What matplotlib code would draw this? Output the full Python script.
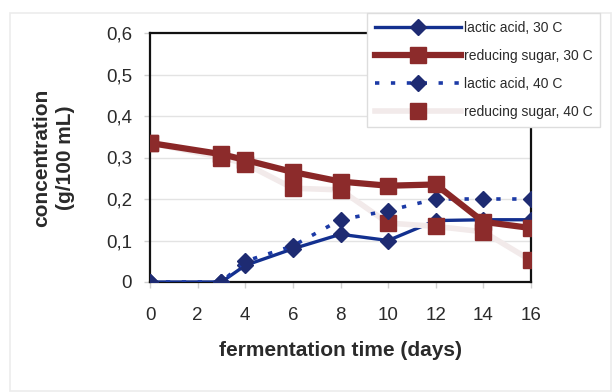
import matplotlib.pyplot as plt
from matplotlib.patches import Rectangle

# data
days = [0, 3, 4, 6, 8, 10, 12, 14, 16]
lactic_30 = [0, 0, 0.04, 0.08, 0.115, 0.10, 0.148, 0.15, 0.15]
sugar_30 = [0.335, 0.308, 0.294, 0.265, 0.242, 0.232, 0.235, 0.145, 0.13]
lactic_40 = [0, 0, 0.05, 0.087, 0.15, 0.172, 0.2, 0.2, 0.2]
sugar_40 = [0.335, 0.30, 0.285, 0.226, 0.222, 0.142, 0.134, 0.121, 0.052]
y_ticks = [0, 0.1, 0.2, 0.3, 0.4, 0.5, 0.6]
y_labels = ['0', '0,1', '0,2', '0,3', '0,4', '0,5', '0,6']
x_ticks = [0, 2, 4, 6, 8, 10, 12, 14, 16]

plain = ['Liberation Sans', 'DejaVu Sans']
txt = '#2a2a2a'

fig = plt.figure(figsize=(6.13, 3.92), dpi=100)
# faint outer chart-area border
fig.patches.append(Rectangle((10 / 613, 1 / 392), 601 / 613, 378 / 392,
                             transform=fig.transFigure, fill=False,
                             edgecolor='#ececec', linewidth=1.2))

ax = fig.add_axes([150 / 613, 1 - 282 / 392, 381 / 613, 249 / 392])

ax.plot(days, lactic_30, color='#13308f', lw=2.4, marker='D', ms=8.5,
        mfc='#1e2b72', mec='#1e2b72', label='lactic acid, 30 C', zorder=3)
ax.plot(days, sugar_30, color='#8a2727', lw=4.5, marker='s', ms=11,
        mfc='#8c2b2b', mec='#8c2b2b', label='reducing sugar, 30 C', zorder=6)
ax.plot(days, lactic_40, color='#1c3aa6', lw=2.6, ls=(0, (1.2, 3.2)),
        marker='D', ms=8.5, mfc='#1e2b72', mec='#1e2b72',
        label='lactic acid, 40 C', zorder=5)
ax.plot(days, sugar_40, color='#f2eaea', lw=4, marker='s', ms=11,
        mfc='#8c2b2b', mec='#8c2b2b', label='reducing sugar, 40 C', zorder=4)

ax.set_xlim(0, 16)
ax.set_ylim(0, 0.6)
ax.set_xticks(x_ticks)
ax.set_yticks(y_ticks)
ax.set_yticklabels(y_labels)
ax.grid(axis='y', color='#e3e3e3', lw=1)
ax.set_axisbelow(True)
for s in ax.spines.values():
    s.set_color('#111111')
    s.set_linewidth(1.6)
ax.tick_params(axis='both', colors='#d0d0d0', labelcolor=txt, length=4,
               width=1)
ax.tick_params(axis='y', pad=9)
ax.tick_params(axis='x', pad=14)
for lab in ax.get_xticklabels() + ax.get_yticklabels():
    lab.set_family(plain)
    lab.set_fontsize(13.5)

ax.set_xlabel('fermentation time (days)', family=plain, fontweight='bold',
              fontsize=15, color=txt, labelpad=12)
ax.set_ylabel('concentration\n(g/100 mL)', family=plain, fontweight='bold',
              fontsize=15, color=txt, labelpad=22, linespacing=1.35)

leg = fig.legend(loc='upper left', bbox_to_anchor=(367 / 613, 1 - 13 / 392),
                 fancybox=False, framealpha=1, edgecolor='#dddddd',
                 prop={'family': plain, 'size': 10}, handlelength=6.2,
                 handletextpad=0.15, labelspacing=1.0, borderpad=0.6,
                 borderaxespad=0)
for t in leg.get_texts():
    t.set_color(txt)
leg.get_frame().set_linewidth(1)

fig.savefig('out.png', dpi=100)
